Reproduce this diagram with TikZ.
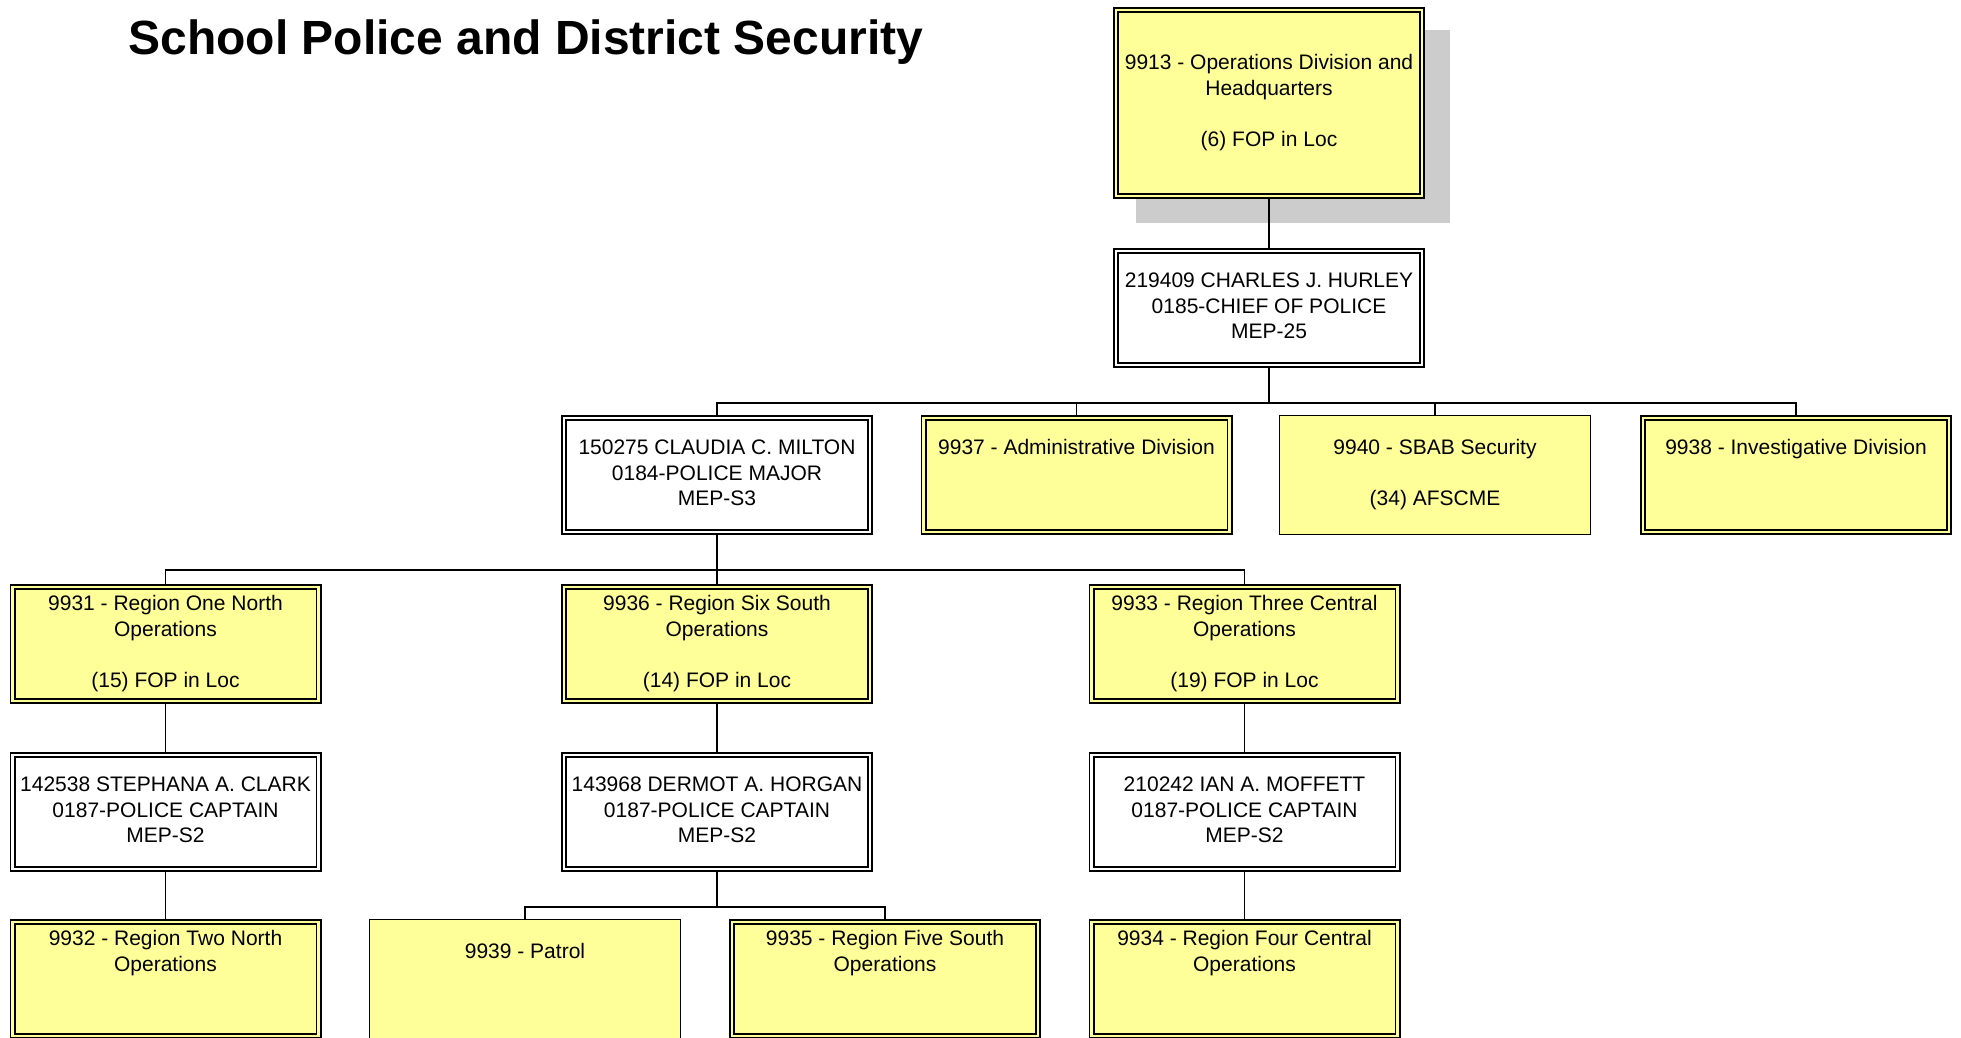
\documentclass[tikz,border=0pt]{standalone}
\usepackage{fontspec}
\setmainfont{Liberation Sans}
\definecolor{boxyellow}{HTML}{FFFF99}
\definecolor{shadowgray}{RGB}{204,204,204}
\tikzset{
  unitbox/.style={rectangle, inner sep=0pt, align=center,
    font=\fontsize{10.5}{12.8}\selectfont, text=black},
  dblyellow/.style={unitbox, draw=black, line width=0.8pt, double=boxyellow,
    double distance=1.4pt, fill=boxyellow, outer sep=1.5pt,
    minimum width=153pt, minimum height=57pt},
  dblwhite/.style={unitbox, draw=black, line width=0.8pt, double=white,
    double distance=1.4pt, fill=white, outer sep=1.5pt,
    minimum width=153pt, minimum height=57pt},
  singleyellow/.style={unitbox, draw=black, line width=0.8pt, fill=boxyellow,
    outer sep=0.4pt, minimum width=155.5pt, minimum height=59.5pt},
  conn/.style={draw=black, line width=0.9pt}
}
\begin{document}
\begin{tikzpicture}[x=0.5pt, y=-0.5pt]
\useasboundingbox (0,0) rectangle (1961,1038);

% title
\node[anchor=base west, inner sep=0pt, font=\fontsize{24}{28}\selectfont\bfseries] (title) at (128,55) {School Police and District Security};

% shadow of top box
\fill[shadowgray] (1136,30) rectangle (1450,223);

% top
\node[dblyellow, minimum height=93pt] (top) at (1269,103) {\strut 9913 - Operations Division and\\\strut Headquarters\\\strut\\\strut (6) FOP in Loc};
\node[dblwhite] (hurley) at (1269,308) {\strut 219409 CHARLES J. HURLEY\\\strut 0185-CHIEF OF POLICE\\\strut MEP-25};

% level 2
\node[dblwhite] (milton) at (717,475) {\strut 150275 CLAUDIA C. MILTON\\\strut 0184-POLICE MAJOR\\\strut MEP-S3};
\node[dblyellow] (admin) at (1076.5,475) {\strut 9937 - Administrative Division\\\strut\\\strut};
\node[singleyellow] (sbab) at (1435,475) {\strut 9940 - SBAB Security\\\strut\\\strut (34) AFSCME};
\node[dblyellow] (invest) at (1796,475) {\strut 9938 - Investigative Division\\\strut\\\strut};

% level 3
\node[dblyellow] (r1n) at (165.5,644) {\strut 9931 - Region One North\\\strut Operations\\\strut\\\strut (15) FOP in Loc};
\node[dblyellow] (r6s) at (717,644) {\strut 9936 - Region Six South\\\strut Operations\\\strut\\\strut (14) FOP in Loc};
\node[dblyellow] (r3c) at (1244.5,644) {\strut 9933 - Region Three Central\\\strut Operations\\\strut\\\strut (19) FOP in Loc};

% level 4
\node[dblwhite] (clark) at (165.5,812) {\strut 142538 STEPHANA A. CLARK\\\strut 0187-POLICE CAPTAIN\\\strut MEP-S2};
\node[dblwhite] (horgan) at (717,812) {\strut 143968 DERMOT A. HORGAN\\\strut 0187-POLICE CAPTAIN\\\strut MEP-S2};
\node[dblwhite] (moffett) at (1244.5,812) {\strut 210242 IAN A. MOFFETT\\\strut 0187-POLICE CAPTAIN\\\strut MEP-S2};

% level 5
\node[dblyellow] (r2n) at (165.5,979) {\strut 9932 - Region Two North\\\strut Operations\\\strut\\\strut};
\node[singleyellow] (patrol) at (525,979) {\strut 9939 - Patrol\\\strut\\\strut};
\node[dblyellow] (r5s) at (885,979) {\strut 9935 - Region Five South\\\strut Operations\\\strut\\\strut};
\node[dblyellow] (r4c) at (1244.5,979) {\strut 9934 - Region Four Central\\\strut Operations\\\strut\\\strut};

% bus coordinates
\coordinate (busA) at (1269,403);
\coordinate (busB) at (717,570);
\coordinate (busC) at (717,907);

% connectors
\draw[conn] (top.south) -- (hurley.north);
\draw[conn] (hurley.south) -- (busA);
\draw[conn] (milton.north) -- (milton.north |- busA) -- (invest.north |- busA) -- (invest.north);
\draw[conn] (admin.north) -- (admin.north |- busA);
\draw[conn] (sbab.north) -- (sbab.north |- busA);

\draw[conn] (milton.south) -- (busB);
\draw[conn] (r1n.north) -- (r1n.north |- busB) -- (r3c.north |- busB) -- (r3c.north);
\draw[conn] (r6s.north) -- (r6s.north |- busB);

\draw[conn] (r1n.south) -- (clark.north);
\draw[conn] (r6s.south) -- (horgan.north);
\draw[conn] (r3c.south) -- (moffett.north);

\draw[conn] (clark.south) -- (r2n.north);
\draw[conn] (moffett.south) -- (r4c.north);
\draw[conn] (horgan.south) -- (busC);
\draw[conn] (patrol.north) -- (patrol.north |- busC) -- (r5s.north |- busC) -- (r5s.north);
\end{tikzpicture}
\end{document}
